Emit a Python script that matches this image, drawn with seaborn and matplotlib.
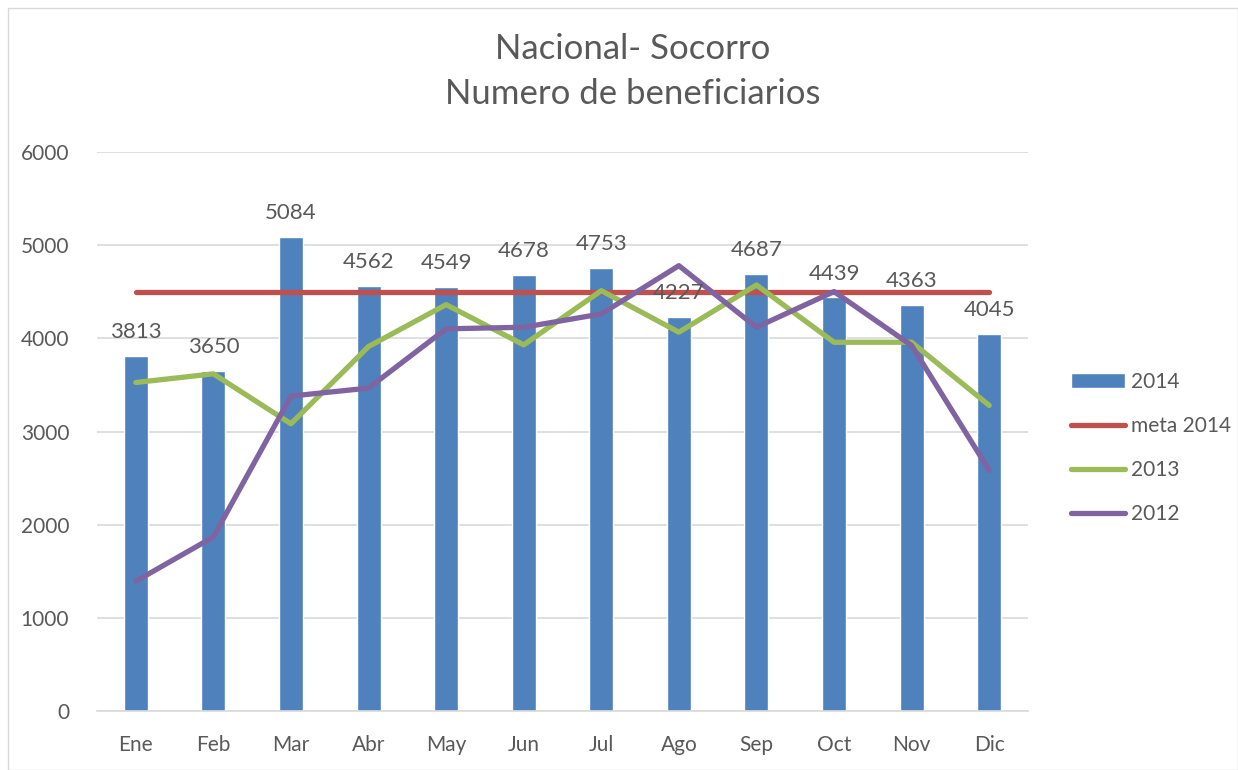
import numpy as np
import pandas as pd
import seaborn as sns
import matplotlib.pyplot as plt
from matplotlib.patches import Rectangle

meses = ["Ene", "Feb", "Mar", "Abr", "May", "Jun", "Jul", "Ago", "Sep", "Oct", "Nov", "Dic"]
v2014 = [3813, 3650, 5084, 4562, 4549, 4678, 4753, 4227, 4687, 4439, 4363, 4045]
meta2014 = [4500] * 12
v2013 = [3526, 3619, 3083, 3912, 4362, 3930, 4512, 4066, 4573, 3958, 3958, 3280]
v2012 = [1393, 1868, 3380, 3466, 4102, 4119, 4262, 4780, 4119, 4502, 3923, 2583]

sns.set_theme(style="white")
plt.rcParams["font.family"] = ["Lato", "DejaVu Sans"]
gris = "#595959"

df = pd.DataFrame({"mes": meses, "pos": np.arange(len(meses)),
                   "2014": v2014, "meta 2014": meta2014, "2013": v2013, "2012": v2012})

fig = plt.figure(figsize=(12.38, 7.70), dpi=100)
ax = fig.add_axes([97 / 1238, 1 - 711 / 770, (1028 - 97) / 1238, (711 - 152) / 770])

sns.barplot(data=df, x="pos", y="2014", color="#4F81BD", width=0.31, saturation=1,
            ax=ax, label="2014")
sns.lineplot(data=df, x="pos", y="meta 2014", color="#C0504D", lw=3.8, ax=ax, label="meta 2014")
sns.lineplot(data=df, x="pos", y="2013", color="#9BBB59", lw=3.8, ax=ax, label="2013")
sns.lineplot(data=df, x="pos", y="2012", color="#8064A2", lw=3.8, ax=ax, label="2012")

ax.bar_label(ax.containers[0], padding=10, fontsize=16, color=gris)

ax.set_ylim(0, 6000)
ax.set_xlim(-0.5, 11.5)
ax.set_yticks(range(0, 6001, 1000))
ax.set_xticks(range(12))
ax.set_xticklabels(meses)
ax.set_xlabel("")
ax.set_ylabel("")
ax.grid(axis="y", color="#D9D9D9", lw=1.2)
ax.set_axisbelow(True)
for s in ["left", "right", "top"]:
    ax.spines[s].set_visible(False)
ax.spines["bottom"].set_color("#D9D9D9")
ax.spines["bottom"].set_linewidth(1.2)
ax.tick_params(axis="y", length=0, pad=20, labelsize=15, labelcolor=gris)
ax.tick_params(axis="x", length=0, pad=17, labelsize=15, labelcolor=gris)

handles, labels = ax.get_legend_handles_labels()
order = ["2014", "meta 2014", "2013", "2012"]
hmap = dict(zip(labels, handles))
ax.legend([hmap[k] for k in order], order, loc="center left",
          bbox_to_anchor=(1052 / 1238, 1 - 448 / 770), bbox_transform=fig.transFigure,
          frameon=False, fontsize=15, labelcolor=gris, handlelength=2.6,
          handletextpad=0.3, labelspacing=1.15)

fig.suptitle("Nacional- Socorro\nNumero de beneficiarios", x=633 / 1238, y=1 - 33 / 770, va="top",
             fontsize=25, color=gris, linespacing=1.5)

fig.patches.append(Rectangle((8 / 1238, 0), 1 - 8 / 1238, 1 - 8 / 770, transform=fig.transFigure,
                             fill=False, edgecolor="#D9D9D9", lw=1))

plt.savefig("out.png", dpi=100)
plt.close()
